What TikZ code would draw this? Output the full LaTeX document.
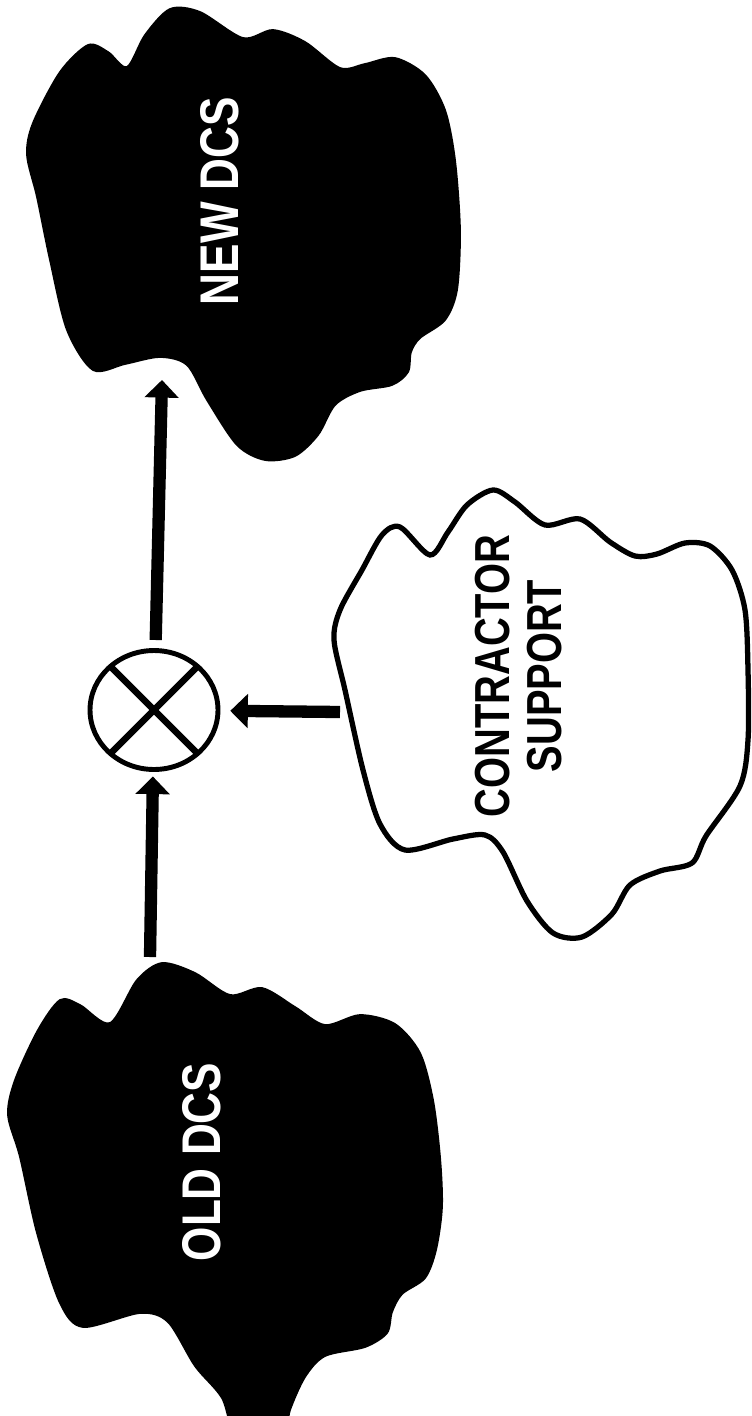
\documentclass[tikz,border=0pt]{standalone}
\definecolor{DInk}{HTML}{000000}
\definecolor{DPaper}{HTML}{FFFFFF}
\usepackage{fontspec}
\setmainfont{Liberation Sans}
\usepackage{graphicx}
\usepackage{tikz}
\usetikzlibrary{arrows.meta,positioning,shapes.geometric}
\newcommand{\squeeze}[1]{\scalebox{0.81}[1]{#1}}

\begin{document}
\begin{tikzpicture}[x=0.02cm,y=-0.02cm,
    flow/.style={draw=DInk,line width=7pt,-{Triangle[length=10pt,width=19pt]}},
    mixer/.style={ellipse,draw=DInk,line width=2.8pt,fill=DPaper,
                  minimum width=2.56cm,minimum height=2.38cm,inner sep=0pt,outer sep=0pt},
    cross/.style={draw=DInk,line width=3.8pt},
    darkblob/.style={fill=DInk,draw=DInk,line width=1pt},
    lightblob/.style={fill=DPaper,draw=DInk,line width=3pt},
    darklabel/.style={text=DPaper,font=\fontsize{31}{33}\selectfont\bfseries,
                      rotate=90,inner sep=0pt},
    lightlabel/.style={text=DInk,font=\fontsize{28}{29.6}\selectfont\bfseries,
                       rotate=90,align=center,inner sep=0pt}]
  \useasboundingbox (0,0) rectangle (751,1416);
  \clip (0,0) rectangle (751,1416);

  % clouds
  \filldraw[darkblob] plot[smooth cycle,tension=0.5] coordinates {
    (33,123) (60,72) (88,45) (108,52) (127,67) (145,35) (170,9)
    (200,12) (243,38) (273,30) (305,42) (340,68) (365,64) (395,58)
    (425,75) (445,110) (455,160) (460,230) (457,290) (445,320) (420,338)
    (411,352) (408,372) (392,385) (360,391) (335,405) (318,435)
    (295,456) (265,460) (237,445) (207,400) (187,365) (160,357)
    (125,364) (93,370) (67,330) (50,260) (37,197) (27,155)};
  \filldraw[darkblob] plot[smooth cycle,tension=0.5] coordinates {
    (60,1000) (80,1005) (110,1023) (137,980) (162,963) (195,973)
    (230,995) (262,988) (295,1007) (325,1025) (360,1015) (395,1024)
    (420,1053) (433,1100) (440,1157) (442,1207) (436,1250) (425,1278)
    (402,1294) (392,1312) (387,1333) (365,1347) (325,1356) (305,1377)
    (290,1410) (282,1440) (238,1440) (222,1398) (195,1366) (168,1322)
    (140,1313) (83,1327) (60,1303) (37,1233) (20,1157) (8,1115)
    (15,1080) (38,1030)};
  \filldraw[lightblob] plot[smooth cycle,tension=0.5] coordinates {
    (430,555) (400,527) (382,535) (362,570) (340,610) (334,640)
    (345,690) (363,770) (380,824) (405,850) (453,839) (485,835)
    (503,852) (527,901) (553,933) (582,937) (612,914) (630,885)
    (660,871) (692,863) (706,836) (740,786) (748,740) (748,670)
    (745,610) (732,570) (710,546) (685,543) (657,554) (635,556)
    (610,542) (580,519) (545,525) (515,502) (493,490) (467,505)
    (448,532)};

  \node[darklabel] (newdcs) at (220,201) {\squeeze{NEW DCS}};
  \node[darklabel] (olddcs) at (202,1162) {\squeeze{OLD DCS}};
  \node[lightlabel] (contractor) at (519,676) {\squeeze{CONTRACTOR}\\\squeeze{SUPPORT}};

  \node[mixer] (mix) at (154,710) {};
  \draw[cross] (mix.45) -- (mix.225) (mix.135) -- (mix.315);

  \coordinate (oldout) at (150,957);
  \coordinate (newin) at (162,380);
  \coordinate (controut) at (340,712);
  \draw[flow,shorten >=4pt] (oldout) -- (mix);
  \draw[flow,shorten <=6pt] (mix) -- (newin);
  \draw[flow,shorten >=7pt] (controut) -- (mix);
\end{tikzpicture}
\end{document}
